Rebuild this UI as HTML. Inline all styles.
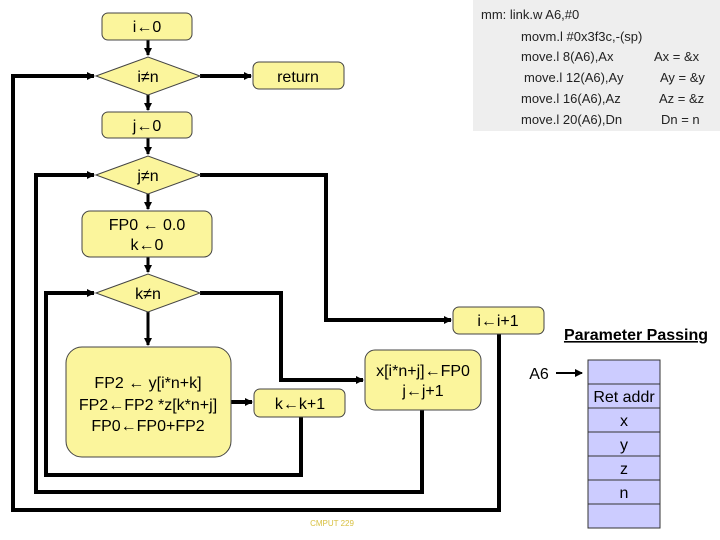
<!DOCTYPE html>
<html><head><style>body{margin:0;background:#fff}svg{display:block}</style></head><body>
<svg width="720" height="540" viewBox="0 0 720 540" xmlns="http://www.w3.org/2000/svg" font-family="Liberation Sans, sans-serif">
<defs><marker id="a" markerWidth="8" markerHeight="8" refX="7" refY="4" orient="auto" markerUnits="userSpaceOnUse"><path d="M0,0 L8,4 L0,8z" fill="#000"/></marker></defs>
<rect x="473" y="0" width="247" height="131" fill="#eeeeee"/>
<g font-size="13" fill="#222">
<text x="481" y="19">mm: link.w A6,#0</text>
<text x="521" y="41">movm.l #0x3f3c,-(sp)</text>
<text x="521" y="61">move.l 8(A6),Ax</text><text x="654" y="61">Ax = &amp;x</text>
<text x="524" y="82">move.l 12(A6),Ay</text><text x="660" y="82">Ay = &amp;y</text>
<text x="521" y="103">move.l 16(A6),Az</text><text x="659" y="103">Az = &amp;z</text>
<text x="521" y="124">move.l 20(A6),Dn</text><text x="661" y="124">Dn = n</text>
</g>
<g stroke="#000" stroke-width="4" fill="none">
<line x1="148" y1="40" x2="148" y2="55" marker-end="url(#a)" stroke-width="3"/>
<line x1="148" y1="95" x2="148" y2="110" marker-end="url(#a)" stroke-width="3"/>
<line x1="148" y1="138" x2="148" y2="154" marker-end="url(#a)" stroke-width="3"/>
<line x1="148" y1="194" x2="148" y2="209" marker-end="url(#a)" stroke-width="3"/>
<line x1="148" y1="257" x2="148" y2="272" marker-end="url(#a)" stroke-width="3"/>
<line x1="148" y1="312" x2="148" y2="345" marker-end="url(#a)" stroke-width="3"/>
<line x1="200" y1="76" x2="251" y2="76" marker-end="url(#a)"/>
<polyline points="499,334 499,510 13,510 13,76 94,76" marker-end="url(#a)"/>
<polyline points="422,410 422,492 36,492 36,175 94,175" marker-end="url(#a)"/>
<polyline points="301,417 301,475 46,475 46,293 94,293" marker-end="url(#a)"/>
<polyline points="200,175 326,175 326,320 451,320" marker-end="url(#a)"/>
<polyline points="200,293 281,293 281,380 363,380" marker-end="url(#a)"/>
<line x1="231" y1="402" x2="252" y2="402" marker-end="url(#a)"/>
<line x1="556" y1="373" x2="582" y2="373" stroke-width="2" marker-end="url(#a)"/>
</g>
<g fill="#fbf59c" stroke="#444" stroke-width="1">
<rect x="102" y="13" width="90" height="27" rx="6"/>
<polygon points="96,76 148,57 200,76 148,95"/>
<rect x="253" y="62" width="91" height="27" rx="6"/>
<rect x="102" y="112" width="90" height="26" rx="6"/>
<polygon points="96,175 148,156 200,175 148,194"/>
<rect x="82" y="211" width="130" height="46" rx="8"/>
<polygon points="96,293 148,274 200,293 148,312"/>
<rect x="453" y="307" width="91" height="27" rx="6"/>
<rect x="66" y="347" width="165" height="110" rx="16"/>
<rect x="254" y="389" width="91" height="28" rx="6"/>
<rect x="365" y="350" width="116" height="60" rx="10"/>
</g>
<g font-size="16" fill="#000" text-anchor="middle">
<text x="147" y="32">i←0</text>
<text x="148" y="82">i≠n</text>
<text x="298" y="82">return</text>
<text x="147" y="131">j←0</text>
<text x="148" y="181">j≠n</text>
<text x="147" y="230">FP0 ← 0.0</text>
<text x="147" y="250">k←0</text>
<text x="148" y="299">k≠n</text>
<text x="498" y="326">i←i+1</text>
<text x="148" y="388">FP2 ← y[i*n+k]</text>
<text x="148" y="410">FP2←FP2 *z[k*n+j]</text>
<text x="148" y="431">FP0←FP0+FP2</text>
<text x="300" y="409">k←k+1</text>
<text x="423" y="376">x[i*n+j]←FP0</text>
<text x="423" y="396">j←j+1</text>
<text x="539" y="379">A6</text>
</g>
<text x="636" y="340" font-size="16" font-weight="bold" text-anchor="middle" text-decoration="underline">Parameter Passing</text>
<g fill="#ccccff" stroke="#333" stroke-width="1">
<rect x="588" y="360" width="72" height="24"/><rect x="588" y="384" width="72" height="24"/><rect x="588" y="408" width="72" height="24"/><rect x="588" y="432" width="72" height="24"/><rect x="588" y="456" width="72" height="24"/><rect x="588" y="480" width="72" height="24"/><rect x="588" y="504" width="72" height="24"/>
</g>
<g font-size="16" text-anchor="middle">
<text x="624" y="402">Ret addr</text><text x="624" y="426">x</text><text x="624" y="450">y</text><text x="624" y="474">z</text><text x="624" y="498">n</text>
</g>
<text x="332" y="526" font-size="8" fill="#d8c040" text-anchor="middle">CMPUT 229</text>
</svg>
</body></html>
